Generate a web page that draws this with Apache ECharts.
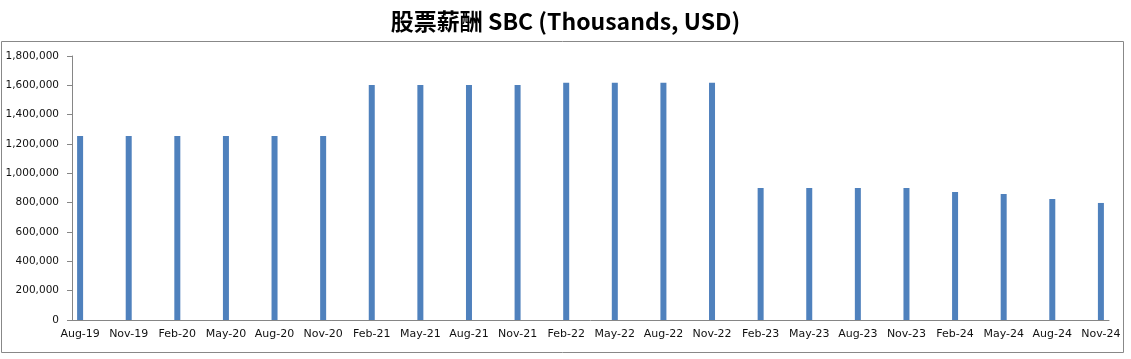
<!DOCTYPE html>
<html>
<head>
<meta charset="utf-8">
<script src="https://cdn.jsdelivr.net/npm/echarts@6/dist/echarts.min.js"></script>
<style>html,body{margin:0;padding:0;background:#fff}#c{width:1131px;height:359px}</style>
</head>
<body>
<div id="c"></div>
<script>
const titleText = '股票薪酬 SBC (Thousands, USD)';
const quarterLabels = ['Aug-19','Nov-19','Feb-20','May-20','Aug-20','Nov-20','Feb-21','May-21','Aug-21','Nov-21','Feb-22','May-22','Aug-22','Nov-22','Feb-23','May-23','Aug-23','Nov-23','Feb-24','May-24','Aug-24','Nov-24'];
const sbcValues = [1255000,1255000,1255000,1255000,1255000,1255000,1602000,1602000,1602000,1602000,1618000,1618000,1618000,1618000,900000,900000,900000,900000,873000,859000,825000,798000];
const yTicks = {min:0, max:1800000, interval:200000};

// monthly date-axis: each quarter label followed by two empty months
const cats = [], vals = [];
quarterLabels.forEach((q, i) => {
  cats.push(q); vals.push(sbcValues[i]);
  if (i < quarterLabels.length - 1) {
    cats.push(q + '_m1'); vals.push(null);
    cats.push(q + '_m2'); vals.push(null);
  }
});

const chart = echarts.init(document.getElementById('c'), null, {renderer:'canvas'});
chart.setOption({
  animation:false,
  title:{text:titleText, left:'center', top:5,
    textStyle:{fontFamily:'"Liberation Sans Narrow","Noto Sans CJK SC",sans-serif', fontSize:23, fontWeight:'bold', color:'#000'}},
  graphic:[{type:'rect', shape:{x:1.5,y:41.5,width:1122,height:311}, style:{fill:'none', stroke:'#888', lineWidth:1}, silent:true}],
  grid:{left:72, right:22, top:56, bottom:39, containLabel:false},
  xAxis:{type:'category', data:cats, boundaryGap:true,
    axisLine:{lineStyle:{color:'#868686'}},
    axisTick:{interval:2, length:5, lineStyle:{color:'#868686'}},
    axisLabel:{interval:2, margin:9, color:'#111', fontFamily:'DejaVu Sans', fontSize:11,
      formatter:v => v.indexOf('_') >= 0 ? '' : v}},
  yAxis:{type:'value', min:yTicks.min, max:yTicks.max, interval:yTicks.interval,
    splitLine:{show:false},
    axisLine:{show:true, lineStyle:{color:'#868686'}},
    axisTick:{show:true, length:5, lineStyle:{color:'#868686'}},
    axisLabel:{margin:13, color:'#111', fontFamily:'DejaVu Sans', fontSize:10.5,
      formatter:v => v.toLocaleString('en-US')}},
  series:[{type:'bar', data:vals, barWidth:6, itemStyle:{color:'#4f81bd'}}]
});
</script>
</body>
</html>
